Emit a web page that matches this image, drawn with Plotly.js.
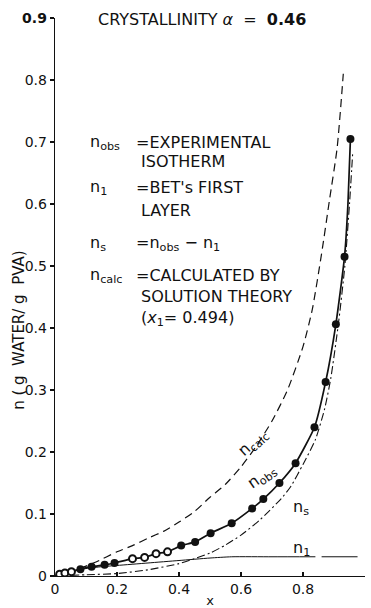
<!DOCTYPE html>
<html>
<head>
<meta charset="utf-8">
<script src="https://cdn.plot.ly/plotly-3.0.1.min.js"></script>
<style>
  html, body { margin: 0; padding: 0; background: #fff; }
  #chart { width: 371px; height: 608px; }
</style>
</head>
<body>
<div id="chart"></div>
<script>
// Water sorption in PVA, crystallinity 0.46 — relative pressure x vs uptake n

// experimental isotherm, open symbols
const obsOpenX = [0.015, 0.032, 0.053, 0.25, 0.289, 0.326, 0.363];
const obsOpenY = [0.003, 0.005, 0.007, 0.028, 0.030, 0.036, 0.039];

// experimental isotherm, filled symbols
const obsFillX = [0.082, 0.118, 0.160, 0.192, 0.407, 0.452, 0.502, 0.570, 0.636, 0.672, 0.724, 0.776, 0.837, 0.873, 0.906, 0.934, 0.953];
const obsFillY = [0.011, 0.015, 0.018, 0.021, 0.049, 0.055, 0.069, 0.085, 0.109, 0.124, 0.150, 0.182, 0.240, 0.313, 0.406, 0.515, 0.705];

// smooth curve drawn through the experimental points
const obsCurveX = [0, 0.015, 0.032, 0.053, 0.082, 0.118, 0.160, 0.192, 0.25, 0.289, 0.326, 0.363, 0.407, 0.452, 0.502, 0.570, 0.636, 0.672, 0.724, 0.776, 0.837, 0.873, 0.906, 0.934, 0.945, 0.953];
const obsCurveY = [0, 0.003, 0.005, 0.007, 0.011, 0.015, 0.018, 0.021, 0.028, 0.030, 0.036, 0.039, 0.049, 0.055, 0.069, 0.085, 0.109, 0.124, 0.150, 0.182, 0.240, 0.313, 0.406, 0.515, 0.600, 0.705];

// solution theory prediction
const calcX = [0, 0.05, 0.10, 0.134, 0.20, 0.25, 0.30, 0.35, 0.40, 0.45, 0.50, 0.55, 0.60, 0.65, 0.70, 0.75, 0.80, 0.83, 0.86, 0.885, 0.91, 0.93];
const calcY = [0, 0.007, 0.016, 0.023, 0.039, 0.049, 0.061, 0.072, 0.087, 0.104, 0.127, 0.148, 0.176, 0.210, 0.250, 0.300, 0.370, 0.430, 0.520, 0.605, 0.690, 0.810];

// BET first layer
const n1X = [0, 0.02, 0.05, 0.10, 0.15, 0.20, 0.30, 0.40, 0.50, 0.57, 0.70, 0.84, null, 0.86, 0.976];
const n1Y = [0, 0.004, 0.008, 0.012, 0.015, 0.017, 0.021, 0.025, 0.029, 0.031, 0.031, 0.031, null, 0.031, 0.031];

// n_s = n_obs - n_1
const nsX = [0, 0.10, 0.20, 0.30, 0.40, 0.45, 0.50, 0.55, 0.60, 0.66, 0.73, 0.76, 0.80, 0.84, 0.87, 0.89, 0.915, 0.935, 0.95, 0.96];
const nsY = [0, 0.002, 0.004, 0.010, 0.020, 0.028, 0.037, 0.050, 0.066, 0.090, 0.125, 0.144, 0.180, 0.220, 0.270, 0.320, 0.410, 0.500, 0.600, 0.680];

const xTicks = [0, 0.2, 0.4, 0.6, 0.8, 1.0];
const xTickText = ['0', '0.2', '0.4', '0.6', '0.8', '1.0'];
const yTicks = [0, 0.1, 0.2, 0.3, 0.4, 0.5, 0.6, 0.7, 0.8, 0.9];
const yTickText = ['0', '0.1', '0.2', '0.3', '0.4', '0.5', '0.6', '0.7', '0.8', '<b>0.9</b>'];

const FONT = 'DejaVu Sans, Liberation Sans, sans-serif';
const INK = '#111';

const traces = [
  { x: calcX, y: calcY, mode: 'lines', line: { color: INK, width: 1.2, dash: '8px,5px', shape: 'spline', smoothing: 0.6 } },
  { x: nsX, y: nsY, mode: 'lines', line: { color: INK, width: 1.1, dash: '8px,3px,2px,3px', shape: 'spline', smoothing: 0.6 } },
  { x: n1X, y: n1Y, mode: 'lines', connectgaps: false, line: { color: INK, width: 1.0, shape: 'spline', smoothing: 0.6 } },
  { x: obsCurveX, y: obsCurveY, mode: 'lines', line: { color: INK, width: 1.7, shape: 'spline', smoothing: 0.5 } },
  { x: obsFillX, y: obsFillY, mode: 'markers', marker: { color: INK, size: 8, symbol: 'circle' } },
  { x: obsOpenX, y: obsOpenY, mode: 'markers', marker: { color: '#fff', size: 7, symbol: 'circle', line: { color: INK, width: 2 } } }
];

function txt(x, y, text, size, extra) {
  return Object.assign({
    x: x, y: y, xref: 'x', yref: 'y', text: text, showarrow: false,
    xanchor: 'left', yanchor: 'middle',
    font: { family: FONT, size: size, color: INK }
  }, extra || {});
}

const annotations = [
  txt(0.473, 0.897, 'CRYSTALLINITY <i>α</i>  =  <b>0.46</b>', 16, { xanchor: 'center' }),

  txt(0.108, 0.700, 'n<sub>obs</sub>', 16),
  txt(0.256, 0.700, '=EXPERIMENTAL', 16),
  txt(0.272, 0.668, 'ISOTHERM', 16),
  txt(0.108, 0.626, 'n<sub>1</sub>', 16),
  txt(0.256, 0.626, "=BET's FIRST", 16),
  txt(0.272, 0.590, 'LAYER', 16),
  txt(0.108, 0.537, 'n<sub>s</sub>', 16),
  txt(0.256, 0.537, '=n<sub>obs</sub> − n<sub>1</sub>', 16),
  txt(0.108, 0.485, 'n<sub>calc</sub>', 16),
  txt(0.256, 0.485, '=CALCULATED BY', 16),
  txt(0.272, 0.451, 'SOLUTION THEORY', 16),
  txt(0.272, 0.415, '(<i>x</i><sub>1</sub>= 0.494)', 16),

  txt(0.640, 0.215, 'n<sub>calc</sub>', 16, { xanchor: 'center', textangle: -42 }),
  txt(0.668, 0.160, 'n<sub>obs</sub>', 16, { xanchor: 'center', textangle: -35 }),
  txt(0.795, 0.110, 'n<sub>s</sub>', 16, { xanchor: 'center' }),
  txt(0.795, 0.045, 'n<sub>1</sub>', 16, { xanchor: 'center' }),

  {
    xref: 'paper', yref: 'paper', x: -0.115, y: 0.44, showarrow: false,
    xanchor: 'center', yanchor: 'middle', textangle: -90,
    text: 'n ( g&nbsp; WATER/ g&nbsp; PVA)',
    font: { family: FONT, size: 15, color: INK }
  }
];

const axisCommon = {
  showgrid: false, zeroline: false, showline: true,
  linecolor: INK, linewidth: 1.3, tickcolor: INK, tickwidth: 1.2,
  tickfont: { family: FONT, size: 14, color: INK }, fixedrange: true
};

const layout = {
  width: 371, height: 608,
  margin: { l: 55, r: 6, t: 18, b: 32 },
  paper_bgcolor: '#fff', plot_bgcolor: '#fff',
  showlegend: false,
  xaxis: Object.assign({}, axisCommon, {
    range: [0, 1.0], tickvals: xTicks, ticktext: xTickText,
    ticks: 'inside', ticklen: 4,
    title: { text: 'x', font: { family: FONT, size: 13, color: INK }, standoff: 2 }
  }),
  yaxis: Object.assign({}, axisCommon, {
    range: [0, 0.9], tickvals: yTicks, ticktext: yTickText,
    ticks: 'outside', ticklen: 4
  }),
  annotations: annotations
};

Plotly.newPlot('chart', traces, layout, { displayModeBar: false, staticPlot: true });
</script>
</body>
</html>
